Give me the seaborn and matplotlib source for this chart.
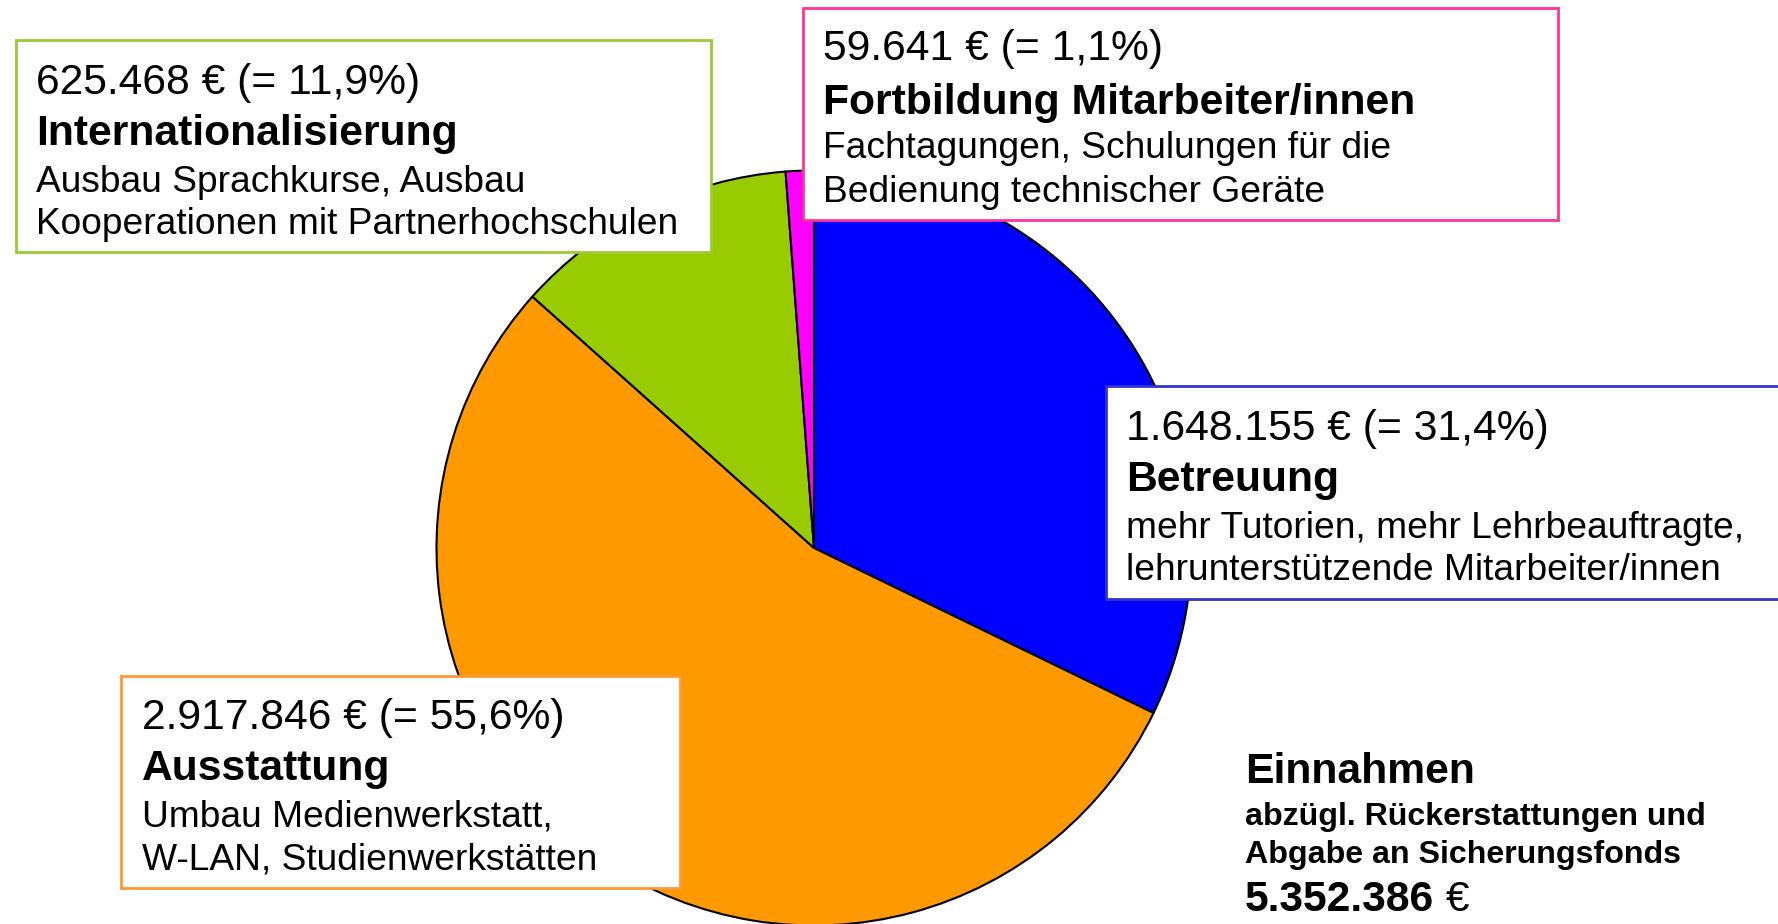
import matplotlib
matplotlib.use("Agg")
import matplotlib.pyplot as plt
from matplotlib.patches import Rectangle
import seaborn as sns

# ---- data ----
categories = ["Betreuung", "Ausstattung", "Internationalisierung", "Fortbildung Mitarbeiter/innen"]
amount_labels = ["1.648.155 €", "2.917.846 €", "625.468 €", "59.641 €"]
percent_labels = ["31,4%", "55,6%", "11,9%", "1,1%"]
# slice shares as drawn in the picture (percent)
slice_shares = [32.2, 54.4, 12.2, 1.2]
descriptions = [
    ["mehr Tutorien, mehr Lehrbeauftragte,", "lehrunterstützende Mitarbeiter/innen"],
    ["Umbau Medienwerkstatt,", "W-LAN, Studienwerkstätten"],
    ["Ausbau Sprachkurse, Ausbau", "Kooperationen mit Partnerhochschulen"],
    ["Fachtagungen, Schulungen für die", "Bedienung technischer Geräte"],
]
slice_colors = ["#0000FF", "#FF9900", "#99CC00", "#FF00FF"]
box_colors = ["#3333CC", "#FF9933", "#99CC33", "#FF3399"]
total_title = "Einnahmen"
total_sub = ["abzügl. Rückerstattungen und", "Abgabe an Sicherungsfonds"]
total_value = "5.352.386"

sns.set_theme(style="white")
plt.rcParams["font.family"] = ["Liberation Sans", "DejaVu Sans"]
plt.rcParams["text.color"] = "black"

W, H = 1778, 924
fig = plt.figure(figsize=(W / 100, H / 100), dpi=100)
ax = fig.add_axes([0, 0, 1, 1])

ax.pie(slice_shares, colors=slice_colors, startangle=90, counterclock=False,
       center=(814, H - 548), radius=377.5,
       wedgeprops=dict(edgecolor="black", linewidth=1.5))
ax.set_xlim(0, W)
ax.set_ylim(0, H)
ax.set_aspect("equal")
ax.set_axis_off()

# box layouts in pixel coords from top-left: (x0, y0, x1, y1, text_x, line_ys)
layouts = [
    (1106, 386, 1790, 599, 1126, [429, 480, 528, 571]),
    (121, 676, 680, 888, 142, [718, 769, 817, 860]),
    (16, 40, 711, 252, 36, [83, 134, 182, 225]),
    (803, 8, 1558, 220, 823, [49, 103, 149, 193]),
]

for i, (x0, y0, x1, y1, tx, ys) in enumerate(layouts):
    ax.add_patch(Rectangle((x0, H - y1), x1 - x0, y1 - y0, facecolor="white",
                           edgecolor=box_colors[i], linewidth=2, zorder=5))
    ax.text(tx, H - ys[0], f"{amount_labels[i]} (= {percent_labels[i]})",
            fontsize=30.7, va="center", ha="left", zorder=6, color="black")
    ax.text(tx, H - ys[1], categories[i], fontsize=30.7, fontweight="bold",
            va="center", ha="left", zorder=6, color="black")
    ax.text(tx, H - ys[2], descriptions[i][0], fontsize=26.7, va="center", ha="left",
            zorder=6, color="black")
    ax.text(tx, H - ys[3], descriptions[i][1], fontsize=26.7, va="center", ha="left",
            zorder=6, color="black")

ax.text(1245, H - 772, total_title, fontsize=30.7, fontweight="bold", va="center", ha="left", color="black")
ax.text(1245, H - 817, total_sub[0], fontsize=23.1, fontweight="bold", va="center", ha="left", color="black")
ax.text(1245, H - 855, total_sub[1], fontsize=23.1, fontweight="bold", va="center", ha="left", color="black")
t = ax.text(1245, H - 900, total_value, fontsize=30.7, fontweight="bold", va="center", ha="left", color="black")
ax.annotate(" €", xycoords=t, xy=(1, 0.5), va="center", ha="left", fontsize=30.7, color="black")

fig.savefig("out.png", dpi=100, facecolor="white")
